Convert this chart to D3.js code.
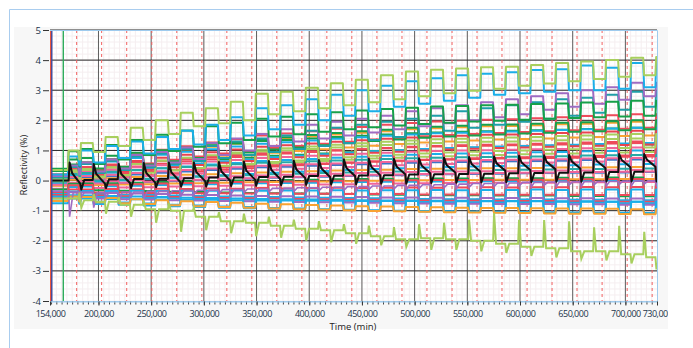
<!DOCTYPE html>
<html>
<head>
<meta charset="utf-8">
<script src="https://cdnjs.cloudflare.com/ajax/libs/d3/7.8.5/d3.min.js"></script>
<style>
  body { margin: 0; background: #fff; }
  text { font-family: "Open Sans", "DejaVu Sans", sans-serif; }
</style>
</head>
<body>
<svg id="chart" width="693" height="348"></svg>
<script>
const redTimes = [179300, 203000, 226800, 250600, 274300, 298100, 321800, 345500, 369200, 393000, 416700, 440400,
  464200, 488000, 511700, 535500, 559200, 582900, 606700, 630400, 654100, 677900, 701700, 725400];
const riseTimes = [171300, 183000, 206400, 230200, 254000, 277700, 301500, 325200, 348900, 372600, 396400, 420100,
  443800, 467600, 491400, 515100, 538900, 562600, 586300, 610100, 633800, 657500, 681300, 705100, 728800];
const fallTimes = [181300, 194900, 218600, 242400, 266200, 289900, 313700, 337400, 361100, 384800, 408600, 432300,
  456000, 479800, 503600, 527300, 551100, 574800, 598500, 622300, 646000, 669700, 693500, 717300];

const xTickValues = [154000, 200000, 250000, 300000, 350000, 400000, 450000, 500000, 550000, 600000, 650000, 700000, 730000];
const yTickValues = [-4, -3, -2, -1, 0, 1, 2, 3, 4, 5];

// vertical traces at the very start of the record
const startLineTimes = [154300, 155000, 155700, 166600];
const startLineColors = ['#f07a22', '#e8434f', '#3c4a9c', '#2daa5a'];

// step series: plateau level of each cycle and level before each rise
const seriesColors = ['#ee4a5a', '#f8a232', '#17a04a', '#1baee8', '#e8434f', '#a8cf5e', '#ee4a5a', '#f0649a',
  '#1baee8', '#3e74c8', '#ee4a5a', '#f8a232', '#26a9a6', '#f0649a', '#f0649a', '#17a04a', '#1baee8', '#ee4a5a',
  '#ee4a5a', '#1baee8', '#9e6bc2', '#1baee8', '#1baee8', '#f8a232', '#17a04a', '#a8cf5e',
  '#1e9fa8', '#9e6bc2', '#17a04a', '#1baee8', '#a8cf5e'];
const seriesPeaks = [
  [0.52, 0.6, 0.71, 0.87, 1.02, 1.14, 1.26, 1.37, 1.5, 1.56, 1.64, 1.72, 1.78, 1.85, 1.91, 1.96, 1.99, 2.02, 2.04, 2.07, 2.1, 2.14, 2.17, 2.2, 2.2],
  [0.48, 0.55, 0.65, 0.79, 0.91, 1.03, 1.12, 1.22, 1.33, 1.39, 1.46, 1.53, 1.59, 1.64, 1.7, 1.74, 1.77, 1.8, 1.81, 1.84, 1.87, 1.89, 1.92, 1.95, 1.95],
  [0.7, 0.75, 0.82, 0.92, 1.01, 1.09, 1.16, 1.23, 1.31, 1.35, 1.4, 1.45, 1.49, 1.53, 1.57, 1.6, 1.62, 1.64, 1.65, 1.67, 1.69, 1.71, 1.73, 1.75, 1.75],
  [0.49, 0.55, 0.63, 0.75, 0.86, 0.96, 1.04, 1.13, 1.22, 1.27, 1.33, 1.39, 1.44, 1.49, 1.53, 1.57, 1.59, 1.62, 1.63, 1.65, 1.68, 1.7, 1.73, 1.75, 1.75],
  [0.39, 0.45, 0.53, 0.65, 0.76, 0.86, 0.94, 1.03, 1.12, 1.17, 1.23, 1.29, 1.34, 1.39, 1.43, 1.47, 1.49, 1.52, 1.53, 1.55, 1.58, 1.6, 1.63, 1.65, 1.65],
  [0.35, 0.4, 0.47, 0.57, 0.66, 0.74, 0.81, 0.88, 0.96, 1.0, 1.05, 1.1, 1.14, 1.18, 1.22, 1.25, 1.27, 1.29, 1.3, 1.32, 1.34, 1.36, 1.38, 1.4, 1.4],
  [0.25, 0.3, 0.37, 0.47, 0.56, 0.64, 0.71, 0.78, 0.86, 0.9, 0.95, 1.0, 1.04, 1.08, 1.12, 1.15, 1.17, 1.19, 1.2, 1.22, 1.24, 1.26, 1.28, 1.3, 1.3],
  [0.26, 0.3, 0.36, 0.44, 0.51, 0.57, 0.63, 0.68, 0.75, 0.78, 0.82, 0.86, 0.89, 0.92, 0.96, 0.98, 1.0, 1.01, 1.02, 1.04, 1.05, 1.07, 1.08, 1.1, 1.1],
  [0.16, 0.2, 0.26, 0.34, 0.41, 0.47, 0.53, 0.58, 0.65, 0.68, 0.72, 0.76, 0.79, 0.82, 0.86, 0.88, 0.9, 0.91, 0.92, 0.94, 0.95, 0.97, 0.98, 1.0, 1.0],
  [0.07, 0.1, 0.14, 0.2, 0.26, 0.3, 0.35, 0.39, 0.44, 0.46, 0.49, 0.52, 0.54, 0.57, 0.59, 0.61, 0.62, 0.63, 0.64, 0.65, 0.66, 0.68, 0.69, 0.7, 0.7],
  [0.41, 0.45, 0.51, 0.59, 0.66, 0.72, 0.78, 0.83, 0.9, 0.93, 0.97, 1.01, 1.04, 1.07, 1.11, 1.13, 1.15, 1.16, 1.17, 1.19, 1.2, 1.22, 1.23, 1.25, 1.25],
  [0.03, 0.05, 0.08, 0.12, 0.15, 0.19, 0.21, 0.24, 0.27, 0.29, 0.31, 0.33, 0.35, 0.36, 0.38, 0.39, 0.4, 0.41, 0.41, 0.42, 0.43, 0.43, 0.44, 0.45, 0.45],
  [0.22, 0.25, 0.29, 0.35, 0.41, 0.45, 0.5, 0.54, 0.59, 0.61, 0.64, 0.67, 0.69, 0.72, 0.74, 0.76, 0.77, 0.78, 0.79, 0.8, 0.81, 0.83, 0.84, 0.85, 0.85],
  [0.12, 0.15, 0.19, 0.25, 0.31, 0.35, 0.4, 0.44, 0.49, 0.51, 0.54, 0.57, 0.59, 0.62, 0.64, 0.66, 0.67, 0.68, 0.69, 0.7, 0.71, 0.73, 0.74, 0.75, 0.75],
  [-0.07, -0.05, -0.02, 0.02, 0.05, 0.09, 0.11, 0.14, 0.17, 0.19, 0.21, 0.23, 0.25, 0.26, 0.28, 0.29, 0.3, 0.31, 0.31, 0.32, 0.33, 0.33, 0.34, 0.35, 0.35],
  [-0.11, -0.1, -0.09, -0.07, -0.05, -0.03, -0.02, 0.0, 0.01, 0.02, 0.03, 0.04, 0.05, 0.06, 0.06, 0.07, 0.07, 0.08, 0.08, 0.08, 0.09, 0.09, 0.1, 0.1, 0.1],
  [-0.21, -0.2, -0.19, -0.17, -0.15, -0.13, -0.12, -0.1, -0.09, -0.08, -0.07, -0.06, -0.05, -0.04, -0.04, -0.03, -0.03, -0.02, -0.02, -0.02, -0.01, -0.01, 0.0, 0.0, 0.0],
  [-0.16, -0.15, -0.14, -0.12, -0.1, -0.08, -0.07, -0.05, -0.04, -0.03, -0.02, -0.01, 0.0, 0.01, 0.01, 0.02, 0.02, 0.03, 0.03, 0.03, 0.04, 0.04, 0.05, 0.05, 0.05],
  [-0.3, -0.3, -0.28, -0.29, -0.27, -0.28, -0.26, -0.27, -0.25, -0.26, -0.25, -0.24, -0.25, -0.24, -0.23, -0.24, -0.23, -0.22, -0.23, -0.22, -0.22, -0.21, -0.22, -0.21, -0.21],
  [-0.36, -0.35, -0.35, -0.34, -0.35, -0.34, -0.34, -0.33, -0.34, -0.33, -0.33, -0.32, -0.33, -0.32, -0.32, -0.31, -0.32, -0.31, -0.31, -0.3, -0.31, -0.3, -0.3, -0.3, -0.3],
  [-0.39, -0.4, -0.41, -0.43, -0.45, -0.47, -0.48, -0.5, -0.51, -0.52, -0.53, -0.54, -0.55, -0.56, -0.56, -0.57, -0.57, -0.58, -0.58, -0.58, -0.59, -0.59, -0.6, -0.6, -0.6],
  [-0.49, -0.5, -0.51, -0.53, -0.55, -0.57, -0.58, -0.6, -0.61, -0.62, -0.63, -0.64, -0.65, -0.66, -0.66, -0.67, -0.67, -0.68, -0.68, -0.68, -0.69, -0.69, -0.7, -0.7, -0.7],
  [-0.6, -0.6, -0.61, -0.62, -0.63, -0.64, -0.64, -0.65, -0.66, -0.66, -0.67, -0.67, -0.68, -0.68, -0.68, -0.69, -0.69, -0.69, -0.69, -0.69, -0.7, -0.7, -0.7, -0.7, -0.7],
  [-0.53, -0.55, -0.58, -0.62, -0.65, -0.69, -0.71, -0.74, -0.77, -0.79, -0.81, -0.83, -0.85, -0.86, -0.88, -0.89, -0.9, -0.91, -0.91, -0.92, -0.93, -0.93, -0.94, -0.95, -0.95],
  [0.53, 0.6, 0.7, 0.84, 0.96, 1.08, 1.17, 1.27, 1.38, 1.44, 1.51, 1.58, 1.64, 1.69, 1.75, 1.79, 1.82, 1.85, 1.86, 1.89, 1.92, 1.94, 1.97, 2.0, 2.0],
  [0.29, 0.35, 0.43, 0.55, 0.66, 0.76, 0.84, 0.93, 1.02, 1.07, 1.13, 1.19, 1.24, 1.29, 1.33, 1.37, 1.39, 1.42, 1.43, 1.45, 1.48, 1.5, 1.53, 1.55, 1.55],
  [0.45, 0.55, 0.65, 0.8, 0.9, 1.05, 1.15, 1.3, 1.4, 1.5, 1.65, 1.75, 1.85, 1.95, 2.05, 2.15, 2.3, 2.4, 2.5, 2.6, 2.7, 2.75, 2.85, 2.95, 2.95],
  [0.5, 0.6, 0.7, 0.85, 0.95, 1.1, 1.25, 1.4, 1.55, 1.7, 1.85, 1.95, 2.05, 2.15, 2.3, 2.4, 2.5, 2.6, 2.7, 2.8, 2.9, 3.0, 3.1, 3.25, 3.25],
  [0.97, 1.05, 1.18, 1.35, 1.52, 1.66, 1.8, 1.92, 2.05, 2.12, 2.2, 2.27, 2.33, 2.38, 2.42, 2.46, 2.48, 2.5, 2.52, 2.54, 2.56, 2.59, 2.62, 2.65, 2.65],
  [0.8, 1.0, 1.15, 1.3, 1.45, 1.65, 1.85, 2.1, 2.4, 2.5, 2.7, 2.85, 3.0, 3.15, 3.3, 3.4, 3.5, 3.55, 3.6, 3.67, 3.7, 3.82, 3.75, 3.9, 3.9],
  [1.0, 1.25, 1.45, 1.75, 2.0, 2.25, 2.4, 2.62, 2.88, 2.95, 3.08, 3.23, 3.35, 3.5, 3.62, 3.68, 3.72, 3.76, 3.78, 3.84, 3.9, 3.95, 4.0, 4.08, 4.1]
];
const seriesBases = [
  [0.21, 0.28, 0.35, 0.46, 0.57, 0.69, 0.8, 0.9, 0.98, 1.08, 1.15, 1.22, 1.29, 1.36, 1.41, 1.47, 1.51, 1.55, 1.58, 1.61, 1.64, 1.67, 1.69, 1.72, 1.75],
  [0.18, 0.24, 0.3, 0.4, 0.49, 0.59, 0.68, 0.77, 0.84, 0.92, 0.98, 1.04, 1.1, 1.16, 1.21, 1.26, 1.3, 1.33, 1.36, 1.38, 1.4, 1.43, 1.45, 1.48, 1.5],
  [0.32, 0.36, 0.4, 0.46, 0.53, 0.59, 0.66, 0.71, 0.76, 0.82, 0.86, 0.9, 0.94, 0.98, 1.01, 1.04, 1.06, 1.09, 1.1, 1.12, 1.14, 1.15, 1.17, 1.18, 1.2],
  [0.15, 0.2, 0.25, 0.33, 0.41, 0.49, 0.57, 0.64, 0.7, 0.77, 0.82, 0.87, 0.92, 0.97, 1.01, 1.05, 1.08, 1.11, 1.13, 1.15, 1.17, 1.19, 1.21, 1.23, 1.25],
  [0.1, 0.15, 0.2, 0.28, 0.36, 0.44, 0.52, 0.59, 0.65, 0.72, 0.77, 0.82, 0.87, 0.92, 0.96, 1.0, 1.03, 1.06, 1.08, 1.1, 1.12, 1.14, 1.16, 1.18, 1.2],
  [0.07, 0.11, 0.15, 0.21, 0.28, 0.34, 0.41, 0.46, 0.51, 0.57, 0.61, 0.65, 0.69, 0.73, 0.76, 0.79, 0.81, 0.84, 0.85, 0.87, 0.89, 0.9, 0.92, 0.93, 0.95],
  [-0.03, 0.01, 0.05, 0.11, 0.18, 0.24, 0.31, 0.36, 0.41, 0.47, 0.51, 0.55, 0.59, 0.63, 0.66, 0.69, 0.71, 0.74, 0.75, 0.77, 0.79, 0.8, 0.82, 0.83, 0.85],
  [-0.01, 0.02, 0.05, 0.1, 0.15, 0.19, 0.24, 0.28, 0.32, 0.36, 0.39, 0.42, 0.45, 0.48, 0.51, 0.53, 0.55, 0.57, 0.58, 0.59, 0.6, 0.61, 0.63, 0.64, 0.65],
  [-0.11, -0.08, -0.05, 0.0, 0.05, 0.09, 0.14, 0.18, 0.22, 0.26, 0.29, 0.32, 0.35, 0.38, 0.41, 0.43, 0.45, 0.47, 0.48, 0.49, 0.5, 0.51, 0.53, 0.54, 0.55],
  [-0.16, -0.14, -0.12, -0.09, -0.06, -0.02, 0.01, 0.04, 0.06, 0.09, 0.11, 0.13, 0.15, 0.17, 0.18, 0.2, 0.21, 0.22, 0.23, 0.24, 0.25, 0.26, 0.26, 0.27, 0.28],
  [0.14, 0.17, 0.2, 0.25, 0.3, 0.34, 0.39, 0.43, 0.47, 0.51, 0.54, 0.57, 0.6, 0.63, 0.66, 0.68, 0.7, 0.72, 0.73, 0.74, 0.75, 0.76, 0.78, 0.79, 0.8],
  [-0.17, -0.16, -0.15, -0.13, -0.12, -0.1, -0.09, -0.07, -0.06, -0.05, -0.04, -0.03, -0.02, -0.01, 0.0, 0.01, 0.02, 0.02, 0.03, 0.03, 0.03, 0.04, 0.04, 0.05, 0.05],
  [-0.04, -0.02, 0.0, 0.03, 0.06, 0.1, 0.13, 0.16, 0.18, 0.21, 0.23, 0.25, 0.27, 0.29, 0.3, 0.32, 0.33, 0.34, 0.35, 0.36, 0.37, 0.38, 0.38, 0.39, 0.4],
  [-0.14, -0.12, -0.1, -0.07, -0.04, 0.0, 0.03, 0.06, 0.08, 0.11, 0.13, 0.15, 0.17, 0.19, 0.2, 0.22, 0.23, 0.24, 0.25, 0.26, 0.27, 0.28, 0.28, 0.29, 0.3],
  [-0.27, -0.26, -0.25, -0.23, -0.22, -0.2, -0.19, -0.17, -0.16, -0.15, -0.14, -0.13, -0.12, -0.11, -0.1, -0.09, -0.08, -0.08, -0.07, -0.07, -0.07, -0.06, -0.06, -0.05, -0.05],
  [-0.3, -0.31, -0.32, -0.34, -0.35, -0.37, -0.38, -0.4, -0.41, -0.42, -0.43, -0.44, -0.45, -0.46, -0.47, -0.48, -0.49, -0.49, -0.5, -0.5, -0.5, -0.51, -0.51, -0.52, -0.52],
  [-0.43, -0.44, -0.45, -0.47, -0.48, -0.5, -0.51, -0.53, -0.54, -0.55, -0.56, -0.57, -0.58, -0.59, -0.6, -0.61, -0.62, -0.62, -0.63, -0.63, -0.63, -0.64, -0.64, -0.65, -0.65],
  [-0.38, -0.39, -0.4, -0.4, -0.41, -0.41, -0.42, -0.42, -0.43, -0.43, -0.44, -0.44, -0.45, -0.45, -0.45, -0.46, -0.46, -0.46, -0.47, -0.47, -0.47, -0.47, -0.48, -0.48, -0.48],
  [-0.48, -0.49, -0.5, -0.52, -0.53, -0.55, -0.56, -0.58, -0.59, -0.6, -0.61, -0.62, -0.63, -0.64, -0.65, -0.66, -0.67, -0.67, -0.68, -0.68, -0.68, -0.69, -0.69, -0.7, -0.7],
  [-0.53, -0.54, -0.55, -0.57, -0.58, -0.6, -0.61, -0.63, -0.64, -0.65, -0.66, -0.67, -0.68, -0.69, -0.7, -0.71, -0.72, -0.72, -0.73, -0.73, -0.73, -0.74, -0.74, -0.75, -0.75],
  [-0.58, -0.59, -0.6, -0.62, -0.63, -0.65, -0.66, -0.68, -0.69, -0.7, -0.71, -0.72, -0.73, -0.74, -0.75, -0.76, -0.77, -0.77, -0.78, -0.78, -0.78, -0.79, -0.79, -0.8, -0.8],
  [-0.66, -0.68, -0.7, -0.73, -0.76, -0.8, -0.83, -0.86, -0.88, -0.91, -0.93, -0.95, -0.97, -0.99, -1.0, -1.02, -1.03, -1.04, -1.05, -1.06, -1.07, -1.08, -1.08, -1.09, -1.1],
  [-0.75, -0.77, -0.78, -0.8, -0.83, -0.85, -0.88, -0.9, -0.92, -0.94, -0.95, -0.97, -0.98, -1.0, -1.01, -1.02, -1.03, -1.04, -1.04, -1.05, -1.06, -1.06, -1.07, -1.07, -1.08],
  [-0.68, -0.7, -0.72, -0.75, -0.78, -0.82, -0.85, -0.88, -0.9, -0.93, -0.95, -0.97, -0.99, -1.01, -1.02, -1.04, -1.05, -1.06, -1.07, -1.08, -1.09, -1.1, -1.1, -1.11, -1.12],
  [0.16, 0.23, 0.3, 0.41, 0.52, 0.64, 0.75, 0.85, 0.93, 1.03, 1.1, 1.17, 1.24, 1.31, 1.36, 1.42, 1.46, 1.5, 1.53, 1.56, 1.59, 1.62, 1.64, 1.67, 1.7],
  [0.0, 0.05, 0.1, 0.18, 0.26, 0.34, 0.42, 0.49, 0.55, 0.62, 0.67, 0.72, 0.77, 0.82, 0.86, 0.9, 0.93, 0.96, 0.98, 1.0, 1.02, 1.04, 1.06, 1.08, 1.1],
  [0.1, 0.15, 0.25, 0.35, 0.45, 0.55, 0.65, 0.75, 0.85, 0.95, 1.05, 1.15, 1.25, 1.35, 1.45, 1.55, 1.65, 1.75, 1.85, 1.95, 2.05, 2.15, 2.25, 2.35, 2.45],
  [0.15, 0.2, 0.3, 0.4, 0.5, 0.6, 0.72, 0.85, 1.0, 1.15, 1.3, 1.4, 1.5, 1.6, 1.7, 1.8, 1.9, 2.0, 2.1, 2.2, 2.35, 2.45, 2.55, 2.68, 2.8],
  [0.39, 0.47, 0.55, 0.7, 0.85, 0.98, 1.12, 1.24, 1.35, 1.46, 1.54, 1.62, 1.7, 1.77, 1.83, 1.88, 1.92, 1.96, 1.99, 2.02, 2.05, 2.08, 2.1, 2.13, 2.15],
  [0.2, 0.5, 0.6, 0.75, 0.9, 1.05, 1.2, 1.35, 1.5, 1.7, 1.85, 2.0, 2.15, 2.3, 2.45, 2.55, 2.65, 2.75, 2.85, 2.9, 2.95, 3.0, 3.0, 3.05, 3.1],
  [0.35, 0.7, 0.95, 1.15, 1.35, 1.55, 1.8, 1.9, 2.0, 2.2, 2.3, 2.4, 2.5, 2.6, 2.7, 2.8, 2.9, 2.98, 3.05, 3.15, 3.22, 3.3, 3.37, 3.45, 3.5]
];

// spike-type traces: spike when a plateau ends, dip at the next rise
const blackSpikeTimes = [172000, 194900, 218600, 242400, 266200, 289900, 313700, 337400, 361100, 384800, 408600, 432300,
  456000, 479800, 503600, 527300, 551100, 574800, 598500, 622300, 646000, 669700, 693500, 717300];
const blackBase = [0.0, 0.02, 0.04, 0.05, 0.06, 0.08, 0.1, 0.1, 0.12, 0.13, 0.15, 0.16, 0.17, 0.18, 0.2, 0.21, 0.22,
  0.23, 0.24, 0.25, 0.26, 0.27, 0.28, 0.29, 0.3];
const blackSpike = [0.6, 0.55, 0.55, 0.58, 0.6, 0.6, 0.62, 0.63, 0.65, 0.66, 0.68, 0.7, 0.72, 0.72, 0.74, 0.76, 0.78,
  0.8, 0.82, 0.84, 0.85, 0.86, 0.88, 0.88];
const blackAfter = [0.25, 0.22, 0.22, 0.25, 0.27, 0.28, 0.3, 0.32, 0.35, 0.37, 0.4, 0.42, 0.45, 0.47, 0.5, 0.52, 0.55,
  0.57, 0.6, 0.62, 0.64, 0.66, 0.68, 0.7];
const blackMid = [-0.1, -0.1, -0.08, -0.06, -0.04, -0.02, 0.0, 0.03, 0.06, 0.09, 0.12, 0.15, 0.18, 0.21, 0.24, 0.27,
  0.3, 0.33, 0.35, 0.38, 0.4, 0.42, 0.44, 0.46];
const blackDip = [-0.3, -0.25, -0.25, -0.22, -0.2, -0.2, -0.18, -0.17, -0.15, -0.14, -0.13, -0.12, -0.1, -0.1, -0.08,
  -0.07, -0.06, -0.05, -0.05, -0.04, -0.04, -0.03, -0.03, -0.03];

const lowLimeBase = [-0.6, -0.65, -0.7, -0.8, -0.95, -1.0, -1.2, -1.35, -1.4, -1.5, -1.6, -1.65, -1.75, -1.85, -1.95,
  -1.92, -1.95, -2.0, -2.1, -2.2, -2.25, -2.35, -2.35, -2.45, -2.55];
const lowLimeSpike = [-0.4, -0.45, -0.55, -0.7, -0.75, -0.9, -1.05, -1.1, -1.2, -1.3, -1.35, -1.45, -1.5, -1.55, -1.45,
  -1.4, -1.3, -1.08, -1.3, -1.31, -1.35, -1.55, -1.5, -1.7];
const lowLimeDip = [-0.9, -1.1, -1.2, -1.4, -1.7, -1.65, -1.75, -1.85, -1.9, -2.0, -2.05, -2.1, -2.15, -2.2, -2.3, -2.3,
  -2.35, -2.4, -2.5, -2.55, -2.6, -2.65, -2.75, -2.95];

const purpleBase = [-0.35, -0.4, -0.4, -0.38, -0.36, -0.34, -0.32, -0.3, -0.28, -0.26, -0.24, -0.22, -0.2, -0.18, -0.16,
  -0.14, -0.12, -0.1, -0.08, -0.06, -0.05, -0.04, -0.03, -0.02, -0.01];
const purpleSpike = [-1.2, -0.9, -0.75, -0.6, -0.5, -0.45, -0.42, -0.4, -0.38, -0.36, -0.34, -0.32, -0.3, -0.28, -0.26,
  -0.24, -0.22, -0.2, -0.18, -0.16, -0.15, -0.14, -0.13, -0.12];
const purpleDip = [-0.55, -0.55, -0.53, -0.51, -0.49, -0.47, -0.45, -0.43, -0.41, -0.39, -0.37, -0.35, -0.33, -0.31,
  -0.29, -0.27, -0.25, -0.23, -0.21, -0.2, -0.19, -0.18, -0.17, -0.16];

const tStart = 154000, tEnd = 730000;

const svg = d3.select('#chart');
const margin = { left: 50, right: 657, top: 30, bottom: 301 };
const x = d3.scaleLinear().domain([tStart, tEnd]).range([margin.left, margin.right]);
const y = d3.scaleLinear().domain([-4, 5]).range([margin.bottom, margin.top]);

// outer frame and panel
svg.append('path').attr('d', 'M9.5,348V9.5H693').attr('fill', 'none').attr('stroke', '#a9cdef');
svg.append('rect').attr('x', 14).attr('y', 27).attr('width', 654).attr('height', 302).attr('fill', '#f7f7f7');
svg.append('rect').attr('x', margin.left).attr('y', margin.top)
  .attr('width', margin.right - margin.left).attr('height', margin.bottom - margin.top).attr('fill', '#fff');

const defs = svg.append('defs');
defs.append('clipPath').attr('id', 'plot-clip').append('rect')
  .attr('x', margin.left).attr('y', margin.top)
  .attr('width', margin.right - margin.left).attr('height', margin.bottom - margin.top);
defs.append('clipPath').attr('id', 'panel-clip').append('rect')
  .attr('x', 14).attr('y', 27).attr('width', 654).attr('height', 302);

// grid
const grid = svg.append('g');
grid.selectAll('.minor-x').data(d3.range(155000, tEnd, 5000)).join('line')
  .attr('x1', d => x(d)).attr('x2', d => x(d)).attr('y1', margin.top).attr('y2', margin.bottom)
  .attr('stroke', '#f5eef0').attr('stroke-width', 1);
grid.selectAll('.minor-y').data(d3.range(-4, 5, 0.2)).join('line')
  .attr('x1', margin.left).attr('x2', margin.right).attr('y1', d => y(d)).attr('y2', d => y(d))
  .attr('stroke', '#f5eef0').attr('stroke-width', 1);
grid.selectAll('.major-x').data(xTickValues.slice(1, -1)).join('line')
  .attr('x1', d => x(d)).attr('x2', d => x(d)).attr('y1', margin.top).attr('y2', margin.bottom)
  .attr('stroke', '#5e5e5e').attr('stroke-width', 1);
grid.selectAll('.major-y').data(yTickValues.slice(1)).join('line')
  .attr('x1', margin.left).attr('x2', margin.right).attr('y1', d => y(d)).attr('y2', d => y(d))
  .attr('stroke', '#262626').attr('stroke-width', 1);
grid.selectAll('.cycle').data(redTimes).join('line')
  .attr('x1', d => x(d)).attr('x2', d => x(d)).attr('y1', margin.top).attr('y2', margin.bottom)
  .attr('stroke', '#f26060').attr('stroke-width', 1).attr('stroke-dasharray', '3,3');

const line = d3.line().x(d => x(d[0])).y(d => y(d[1]));
const plot = svg.append('g').attr('clip-path', 'url(#plot-clip)');

function stepPoints(peaks, bases) {
  const pts = [[tStart, bases[0]]];
  riseTimes.forEach((r, c) => {
    pts.push([r - 300, bases[c]], [r + 400, peaks[c]]);
    if (c < fallTimes.length) {
      pts.push([fallTimes[c] - 400, peaks[c]], [fallTimes[c] + 500, bases[c + 1]]);
    } else {
      pts.push([tEnd + 2000, peaks[c]]);
    }
  });
  return pts;
}

function spikePoints(s) {
  const pts = [[tStart, s.base[0]]];
  s.times.forEach((t, j) => {
    const r = riseTimes[j + 1];
    pts.push([t - 300, s.base[j]], [t + 600, s.spike[j]]);
    if (s.after) pts.push([t + 3000, s.after[j]]);
    if (s.mid) pts.push([r - 300, s.mid[j]]);
    else pts.push([Math.min(t + s.width, r - 600), s.base[j + 1]], [r - 300, s.base[j + 1]]);
    pts.push([r + 700, s.dip[j]], [r + 3500, s.base[j + 1]]);
  });
  pts.push([tEnd + 2000, s.base[s.base.length - 1]]);
  return pts;
}

seriesPeaks.forEach((peaks, i) => {
  plot.append('path').datum(stepPoints(peaks, seriesBases[i]))
    .attr('d', line).attr('fill', 'none').attr('stroke', seriesColors[i])
    .attr('stroke-width', 2).attr('stroke-linejoin', 'round');
});

plot.append('path')
  .datum(spikePoints({ times: blackSpikeTimes, base: purpleBase, spike: purpleSpike, dip: purpleDip, width: 4000 }))
  .attr('d', line).attr('fill', 'none').attr('stroke', '#9e6bc2').attr('stroke-width', 1.6);
plot.append('path')
  .datum(spikePoints({ times: fallTimes, base: lowLimeBase, spike: lowLimeSpike, dip: lowLimeDip, width: 2500 }))
  .attr('d', line).attr('fill', 'none').attr('stroke', '#a8cf5e').attr('stroke-width', 2);

const blackPts = spikePoints({ times: blackSpikeTimes, base: blackBase, spike: blackSpike,
  after: blackAfter, mid: blackMid, dip: blackDip });
blackPts.unshift([tStart, -1.3]);
blackPts[1] = [tStart + 300, blackBase[0]];
plot.append('path').datum(blackPts)
  .attr('d', line).attr('fill', 'none').attr('stroke', '#111').attr('stroke-width', 2)
  .attr('stroke-linejoin', 'round');

plot.selectAll('.start-line').data(startLineTimes).join('line')
  .attr('x1', d => x(d)).attr('x2', d => x(d)).attr('y1', y(5)).attr('y2', y(-4))
  .attr('stroke', (d, i) => startLineColors[i]).attr('stroke-width', 1.4);

// plot frame
svg.append('path')
  .attr('d', `M${margin.left},${margin.top + 0.5}H${margin.right + 0.5}V${margin.bottom + 0.5}H${margin.left}`)
  .attr('fill', 'none').attr('stroke', '#9fcbee');

// axes
const axisText = '#22344a';
const xMinor = svg.append('g').attr('transform', `translate(0,${margin.bottom + 0.5})`)
  .call(d3.axisBottom(x).tickValues(d3.range(155000, tEnd, 5000)).tickSize(3).tickFormat(''));
xMinor.select('.domain').remove();
xMinor.selectAll('line').attr('stroke', '#444');

const xAxis = svg.append('g').attr('clip-path', 'url(#panel-clip)')
  .append('g').attr('transform', `translate(0,${margin.bottom + 0.5})`)
  .call(d3.axisBottom(x).tickValues(xTickValues).tickSize(4).tickSizeOuter(0).tickFormat(d3.format(',')));
xAxis.select('.domain').attr('stroke', '#9fcbee');
xAxis.selectAll('line').attr('stroke', '#333');
xAxis.selectAll('text').attr('fill', axisText).attr('font-size', 9).attr('letter-spacing', -0.5)
  .attr('dy', '0.9em');

const yAxis = svg.append('g').attr('transform', `translate(${margin.left - 1},0)`)
  .call(d3.axisLeft(y).tickValues(yTickValues).tickSize(6).tickSizeOuter(0).tickFormat(d => String(d)));
yAxis.select('.domain').remove();
yAxis.selectAll('line').attr('stroke', '#333');
yAxis.selectAll('text').attr('fill', axisText).attr('font-size', 9.5).attr('x', -8);

svg.append('text').attr('x', 353).attr('y', 330).attr('text-anchor', 'middle')
  .attr('font-size', 9.5).attr('fill', '#222').text('Time (min)');
svg.append('text').attr('transform', 'translate(27,165) rotate(-90)').attr('text-anchor', 'middle')
  .attr('font-size', 9).attr('fill', '#222').text('Reflectivity (%)');
</script>
</body>
</html>
